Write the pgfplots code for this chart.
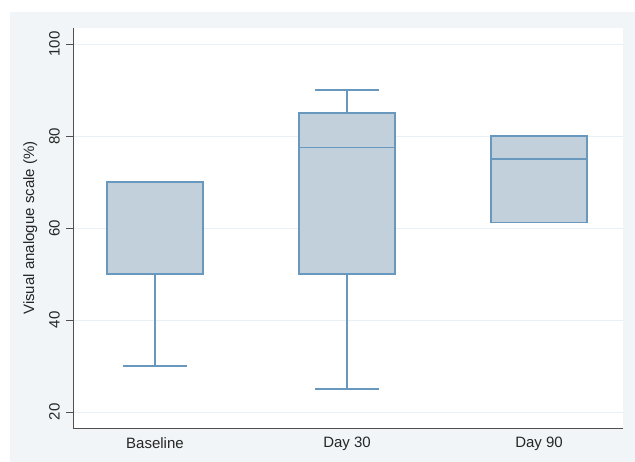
\documentclass[border=0pt]{standalone}
\usepackage{pgfplots}
\pgfplotsset{compat=1.18}
\usepackage{fontspec}
\setmainfont{Liberation Sans}
\definecolor{bgc}{RGB}{241,245,248}
\definecolor{boxfill}{RGB}{194,208,220}
\definecolor{boxdraw}{RGB}{104,152,190}
\definecolor{axgray}{RGB}{80,80,80}
\definecolor{gridc}{RGB}{234,241,244}
\pgfplotsset{bx/.style={draw=boxdraw, line width=1.2bp, mark=none, solid}}
\begin{document}
\begin{tikzpicture}
\fill[white] (0bp,0bp) rectangle (635bp,462bp);
\fill[bgc] (10bp,0bp) rectangle (635bp,450bp);
\fill[white] (73bp,34bp) rectangle (623bp,434bp);
\begin{axis}[
  at={(73bp,34bp)}, anchor=south west,
  scale only axis, width=550bp, height=400bp,
  xmin=0.573, xmax=3.437, ymin=16.5, ymax=103.5,
  axis x line*=bottom, axis y line*=left,
  axis line style={draw=axgray, line width=1bp},
  xtick={1,2,3}, xticklabels={Baseline, Day 30, Day 90},
  xtick style={draw=none},
  ytick={20,40,60,80,100},
  tick align=outside, major tick length=7bp,
  ytick style={draw=axgray, line width=0.8bp},
  ymajorgrids, grid style={draw=gridc, line width=0.8bp},
  /pgf/number format/assume math mode=true,
  ticklabel style={font=\fontsize{15bp}{18bp}\selectfont, text=black!85},
  yticklabel style={rotate=90, anchor=south, inner sep=0pt},
  yticklabel shift=6bp,
  xticklabel style={anchor=north, inner sep=0pt, yshift=-2bp},
  ylabel={Visual analogue scale (\%)},
  ylabel style={at={(axis description cs:-0.0645,0.5)}, anchor=south, inner sep=0pt, font=\fontsize{15bp}{18bp}\selectfont, text=black!85},
  clip=false,
]
% whiskers (vertical)
\addplot[bx] coordinates {(1,50) (1,30)};
\addplot[bx] coordinates {(2,50) (2,25)};
\addplot[bx] coordinates {(2,85) (2,90)};
% whisker caps
\addplot[bx] coordinates {(0.8335,30) (1.1665,30)};
\addplot[bx] coordinates {(1.8335,25) (2.1665,25)};
\addplot[bx] coordinates {(1.8335,90) (2.1665,90)};
% boxes: Q1 to Q3
\addplot[bx, fill=boxfill] coordinates {(0.75,50) (1.25,50) (1.25,70) (0.75,70)} --cycle;
\addplot[bx, fill=boxfill] coordinates {(1.75,50) (2.25,50) (2.25,85) (1.75,85)} --cycle;
\addplot[bx, fill=boxfill] coordinates {(2.75,61.25) (3.25,61.25) (3.25,80) (2.75,80)} --cycle;
% medians
\addplot[bx] coordinates {(0.75,50) (1.25,50)};
\addplot[bx] coordinates {(1.75,77.5) (2.25,77.5)};
\addplot[bx] coordinates {(2.75,75) (3.25,75)};
\end{axis}
\pgfresetboundingbox
\useasboundingbox (0bp,0bp) rectangle (635bp,462bp);
\end{tikzpicture}
\end{document}
